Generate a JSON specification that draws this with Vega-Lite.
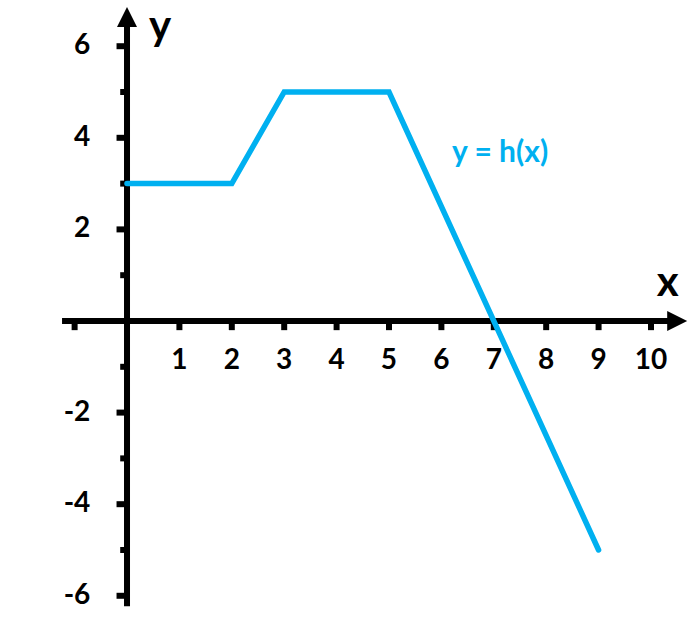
{
  "$schema": "https://vega.github.io/schema/vega-lite/v6.json",
  "width": 693,
  "height": 618,
  "padding": 0,
  "autosize": {"type": "none"},
  "background": "white",
  "config": {"view": {"stroke": null}},
  "datasets": {
    "h": [
      {"x": 0, "y": 3},
      {"x": 2, "y": 3},
      {"x": 3, "y": 5},
      {"x": 5, "y": 5},
      {"x": 9, "y": -5}
    ],
    "xaxis": [{"x": -1.24, "x2": 10.45, "y": 0}],
    "yaxis": [{"x": 0, "y": -6.23, "y2": 6.55}],
    "xticks": [
      {"v": -1}, {"v": 1}, {"v": 2}, {"v": 3}, {"v": 4}, {"v": 5},
      {"v": 6}, {"v": 7}, {"v": 8}, {"v": 9}, {"v": 10}
    ],
    "yticks": [
      {"v": -6, "len": -0.2}, {"v": -5, "len": -0.13}, {"v": -4, "len": -0.2},
      {"v": -3, "len": -0.13}, {"v": -2, "len": -0.2}, {"v": -1, "len": -0.13},
      {"v": 1, "len": -0.13}, {"v": 2, "len": -0.2}, {"v": 3, "len": -0.13},
      {"v": 4, "len": -0.2}, {"v": 5, "len": -0.13}, {"v": 6, "len": -0.2}
    ],
    "xlabels": [
      {"v": 1, "t": "1"}, {"v": 2, "t": "2"}, {"v": 3, "t": "3"}, {"v": 4, "t": "4"},
      {"v": 5, "t": "5"}, {"v": 6, "t": "6"}, {"v": 7, "t": "7"}, {"v": 8, "t": "8"},
      {"v": 9, "t": "9"}, {"v": 10, "t": "10"}
    ],
    "ylabels": [
      {"v": -6, "t": "-6"}, {"v": -4, "t": "-4"}, {"v": -2, "t": "-2"},
      {"v": 2, "t": "2"}, {"v": 4, "t": "4"}, {"v": 6, "t": "6"}
    ],
    "arrows": [
      {"x": 10.5, "y": 0, "shape": "M-1,-1L1,0L-1,1Z"},
      {"x": 0, "y": 6.64, "shape": "M-1,1L0,-1L1,1Z"}
    ],
    "names": [
      {"x": 0.63, "y": 6.42, "text": "y"},
      {"x": 10.32, "y": 0.83, "text": "x"}
    ],
    "fname": [{"x": 7.12, "y": 3.67, "text": "y = h(x)"}]
  },
  "layer": [
    {
      "data": {"name": "xaxis"},
      "mark": {"type": "rule", "color": "black", "strokeWidth": 6},
      "encoding": {
        "x": {"field": "x", "type": "quantitative", "scale": {"domain": [-2.424, 10.802], "nice": false, "zero": false}, "axis": null},
        "x2": {"field": "x2"},
        "y": {"field": "y", "type": "quantitative", "scale": {"domain": [-6.485, 7.009], "nice": false, "zero": false}, "axis": null}
      }
    },
    {
      "data": {"name": "yaxis"},
      "mark": {"type": "rule", "color": "black", "strokeWidth": 6},
      "encoding": {
        "x": {"field": "x", "type": "quantitative"},
        "y": {"field": "y", "type": "quantitative"},
        "y2": {"field": "y2"}
      }
    },
    {
      "data": {"name": "xticks"},
      "transform": [{"calculate": "0", "as": "top"}, {"calculate": "-0.2", "as": "bot"}],
      "mark": {"type": "rule", "color": "black", "strokeWidth": 6},
      "encoding": {
        "x": {"field": "v", "type": "quantitative"},
        "y": {"field": "top", "type": "quantitative"},
        "y2": {"field": "bot"}
      }
    },
    {
      "data": {"name": "yticks"},
      "transform": [{"calculate": "0", "as": "zero"}],
      "mark": {"type": "rule", "color": "black", "strokeWidth": 6},
      "encoding": {
        "y": {"field": "v", "type": "quantitative"},
        "x": {"field": "len", "type": "quantitative"},
        "x2": {"field": "zero"}
      }
    },
    {
      "data": {"name": "arrows"},
      "mark": {"type": "point", "filled": true, "color": "black", "size": 400, "opacity": 1},
      "encoding": {
        "x": {"field": "x", "type": "quantitative"},
        "y": {"field": "y", "type": "quantitative"},
        "shape": {"field": "shape", "type": "nominal", "scale": null}
      }
    },
    {
      "data": {"name": "xlabels"},
      "transform": [{"calculate": "-0.87", "as": "ly"}],
      "mark": {"type": "text", "font": "Lato", "fontWeight": "bold", "fontSize": 28, "color": "black", "align": "center", "baseline": "middle"},
      "encoding": {
        "x": {"field": "v", "type": "quantitative"},
        "y": {"field": "ly", "type": "quantitative"},
        "text": {"field": "t"}
      }
    },
    {
      "data": {"name": "ylabels"},
      "transform": [{"calculate": "-0.7", "as": "lx"}],
      "mark": {"type": "text", "font": "Lato", "fontWeight": "bold", "fontSize": 28, "color": "black", "align": "right", "baseline": "middle"},
      "encoding": {
        "x": {"field": "lx", "type": "quantitative"},
        "y": {"field": "v", "type": "quantitative"},
        "text": {"field": "t"}
      }
    },
    {
      "data": {"name": "names"},
      "mark": {"type": "text", "font": "Lato", "fontWeight": "bold", "fontSize": 42, "color": "black", "align": "center", "baseline": "middle"},
      "encoding": {
        "x": {"field": "x", "type": "quantitative"},
        "y": {"field": "y", "type": "quantitative"},
        "text": {"field": "text"}
      }
    },
    {
      "data": {"name": "fname"},
      "mark": {"type": "text", "font": "Lato", "fontWeight": "bold", "fontSize": 30, "color": "#00B0F0", "align": "center", "baseline": "middle"},
      "encoding": {
        "x": {"field": "x", "type": "quantitative"},
        "y": {"field": "y", "type": "quantitative"},
        "text": {"field": "text"}
      }
    },
    {
      "data": {"name": "h"},
      "mark": {"type": "line", "color": "#00B0F0", "strokeWidth": 5.5, "strokeCap": "round", "strokeJoin": "miter"},
      "encoding": {
        "x": {"field": "x", "type": "quantitative"},
        "y": {"field": "y", "type": "quantitative"}
      }
    }
  ]
}
